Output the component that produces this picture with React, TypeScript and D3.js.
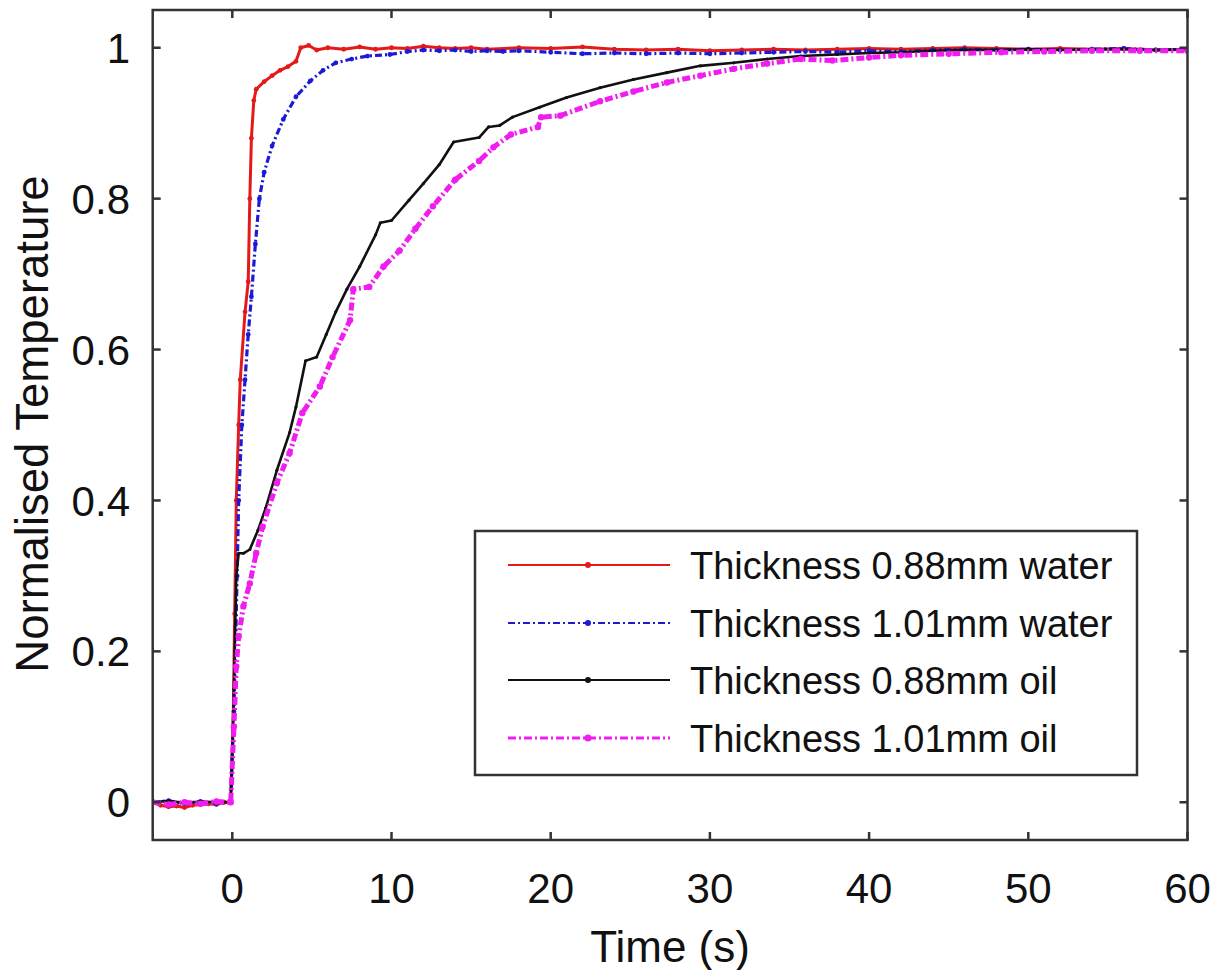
import React from "react";
import * as d3 from "d3";

type Pt = [number, number];

const xTicks = [0, 10, 20, 30, 40, 50, 60];
const yTicks = [0, 0.2, 0.4, 0.6, 0.8, 1];
const yTickLabels = ["0", "0.2", "0.4", "0.6", "0.8", "1"];

const seriesNames = [
  "Thickness 0.88mm water",
  "Thickness 1.01mm water",
  "Thickness 0.88mm oil",
  "Thickness 1.01mm oil",
];

const red088Water: Pt[] = [
  [-5, 0.0], [-4.5, -0.004], [-4, -0.006], [-3.5, -0.005], [-3, -0.007], [-2.5, -0.004],
  [-2, -0.003], [-1.5, -0.002], [-1, -0.003], [-0.5, 0.0], [-0.1, 0.0], [0.05, 0.1],
  [0.15, 0.25], [0.25, 0.4], [0.4, 0.5], [0.5, 0.56], [0.8, 0.65], [1.0, 0.69],
  [1.1, 0.8], [1.2, 0.88], [1.35, 0.93], [1.5, 0.945], [2.0, 0.955], [2.5, 0.963],
  [3.0, 0.97], [3.5, 0.975], [4.0, 0.982], [4.3, 1.0], [4.8, 1.003], [5.3, 0.997],
  [6, 1.0], [7, 0.998], [8, 1.001], [9, 0.998], [10, 1.0], [11, 0.999], [12, 1.002],
  [13, 1.0], [14, 0.999], [15, 1.0], [16, 0.998], [18, 1.0], [20, 0.999], [22, 1.001],
  [24, 0.998], [26, 0.997], [28, 0.998], [30, 0.996], [32, 0.997], [34, 0.998],
  [36, 0.997], [38, 0.998], [40, 0.999], [42, 0.998], [44, 0.999], [46, 1.0],
  [48, 0.999], [50, 0.998], [52, 0.999], [54, 0.998], [56, 0.999], [58, 0.997], [60, 0.998],
];

const blue101Water: Pt[] = [
  [-5, 0.0], [-4, 0.002], [-3, -0.002], [-2, 0.001], [-1, -0.002], [-0.1, 0.0],
  [0.1, 0.12], [0.2, 0.2], [0.3, 0.3], [0.4, 0.4], [0.6, 0.5], [0.8, 0.56], [1.0, 0.62],
  [1.2, 0.67], [1.45, 0.74], [1.7, 0.8], [2.0, 0.835], [2.5, 0.87], [3.2, 0.905],
  [4.0, 0.935], [4.9, 0.956], [5.7, 0.97], [6.5, 0.98], [7.5, 0.985], [8.5, 0.989],
  [9.9, 0.991], [11, 0.995], [12, 0.997], [13, 0.996], [14, 0.997], [15, 0.995],
  [16, 0.996], [17, 0.995], [18, 0.996], [20, 0.994], [22, 0.992], [24, 0.993],
  [26, 0.992], [28, 0.993], [30, 0.992], [32, 0.993], [34, 0.994], [36, 0.995],
  [38, 0.994], [40, 0.996], [42, 0.995], [44, 0.997], [46, 0.998], [48, 0.997],
  [50, 0.998], [52, 0.997], [54, 0.998], [56, 0.999], [58, 0.997], [60, 0.998],
];

const black088Oil: Pt[] = [
  [-5, 0.0], [-4, 0.002], [-3, -0.001], [-2, 0.001], [-1, 0.0], [-0.1, 0.0], [0.1, 0.15],
  [0.25, 0.3], [0.4, 0.33], [0.7, 0.33], [1.1, 0.335], [1.6, 0.36], [2.1, 0.39],
  [2.8, 0.44], [3.6, 0.49], [4.0, 0.524], [4.6, 0.585], [5.3, 0.59], [5.9, 0.62],
  [6.5, 0.65], [7.2, 0.68], [8.0, 0.71], [9.0, 0.752], [9.3, 0.768], [10.0, 0.771],
  [11.1, 0.798], [12.0, 0.82], [13.0, 0.845], [13.9, 0.875], [15.5, 0.881], [16.1, 0.895],
  [16.8, 0.897], [17.6, 0.908], [19.3, 0.921], [21.0, 0.934], [23.1, 0.947], [25.2, 0.958],
  [27.3, 0.967], [29.4, 0.976], [31.5, 0.98], [33.6, 0.985], [35.7, 0.989], [38, 0.991],
  [40, 0.993], [42, 0.994], [44, 0.996], [46, 0.997], [48, 0.997], [50, 0.998],
  [52, 0.997], [54, 0.998], [56, 0.998], [58, 0.997], [60, 0.998],
];

const magenta101Oil: Pt[] = [
  [-5, 0.0], [-4, -0.003], [-3, 0.0], [-2, -0.002], [-1, 0.001], [-0.1, 0.0], [0.1, 0.1],
  [0.25, 0.18], [0.4, 0.22], [0.7, 0.26], [1.1, 0.29], [1.5, 0.33], [1.9, 0.365],
  [2.8, 0.423], [3.6, 0.463], [4.4, 0.516], [5.5, 0.551], [6.3, 0.59], [7.4, 0.639],
  [7.6, 0.68], [8.6, 0.683], [9.5, 0.71], [10.5, 0.731], [11.5, 0.76], [12.6, 0.79],
  [14.0, 0.825], [15.5, 0.85], [16.4, 0.868], [17.5, 0.885], [19.2, 0.895], [19.4, 0.908],
  [20.6, 0.91], [23.1, 0.929], [25.2, 0.942], [27.3, 0.954], [29.4, 0.963], [31.5, 0.972],
  [33.6, 0.979], [35.7, 0.985], [37.7, 0.983], [40, 0.987], [42, 0.99], [45, 0.992],
  [48.3, 0.994], [51, 0.995], [54, 0.996], [57, 0.996], [60, 0.996],
];

const seriesData = [red088Water, blue101Water, black088Oil, magenta101Oil];
const seriesColors = ["#e41a1a", "#1a1ad8", "#111111", "#f01cf0"];
const seriesDash = ["none", "7,3,2,3", "none", "8,3,2,3"];
const seriesWidth = [3, 3.2, 2.6, 5];
const markerR = [2.4, 2.4, 1.6, 3.2];

const W = 1217;
const H = 970;
const left = 152.7;
const right = 1187.5;
const top = 10;
const bottom = 840;
const font = "'Liberation Sans', Arial, Helvetica, sans-serif";
const axisColor = "#333333";

export default function App() {
  const x = d3.scaleLinear().domain([-5, 60]).range([left, right]);
  const y = d3.scaleLinear().domain([-0.05, 1.05]).range([bottom, top]);
  const line = d3
    .line<Pt>()
    .x((d) => x(d[0]))
    .y((d) => y(d[1]));
  const tickLen = 8;

  const legX0 = 475;
  const legY0 = 531;
  const legW = 662;
  const legH = 244;
  const rowY = [565, 623, 680, 738];

  return (
    <svg
      width={W}
      height={H}
      style={{ position: "absolute", left: 0, top: 0, background: "#fff" }}
      fontFamily={font}
    >
      <rect x={0} y={0} width={W} height={H} fill="#fff" />
      <defs>
        <clipPath id="plotClip">
          <rect x={left} y={top} width={right - left} height={bottom - top} />
        </clipPath>
      </defs>

      <g clipPath="url(#plotClip)">
        {seriesData.map((data, i) => (
          <g key={i}>
            <path
              d={line(data) || ""}
              fill="none"
              stroke={seriesColors[i]}
              strokeWidth={seriesWidth[i]}
              strokeDasharray={seriesDash[i]}
              strokeLinejoin="round"
            />
            {data.map((d, j) => (
              <circle key={j} cx={x(d[0])} cy={y(d[1])} r={markerR[i]} fill={seriesColors[i]} />
            ))}
          </g>
        ))}
      </g>

      {/* axes box */}
      <rect
        x={left}
        y={top}
        width={right - left}
        height={bottom - top}
        fill="none"
        stroke={axisColor}
        strokeWidth={2.5}
      />
      {xTicks.map((t) => (
        <g key={"xt" + t}>
          <line x1={x(t)} x2={x(t)} y1={bottom} y2={bottom - tickLen} stroke={axisColor} strokeWidth={2.5} />
          <line x1={x(t)} x2={x(t)} y1={top} y2={top + tickLen} stroke={axisColor} strokeWidth={2.5} />
          <text x={x(t)} y={903} textAnchor="middle" fontSize={42} fill="#111">
            {t}
          </text>
        </g>
      ))}
      {yTicks.map((t, i) => (
        <g key={"yt" + t}>
          <line x1={left} x2={left + tickLen} y1={y(t)} y2={y(t)} stroke={axisColor} strokeWidth={2.5} />
          <line x1={right} x2={right - tickLen} y1={y(t)} y2={y(t)} stroke={axisColor} strokeWidth={2.5} />
          <text x={130} y={y(t)} dy="0.36em" textAnchor="end" fontSize={42} fill="#111">
            {yTickLabels[i]}
          </text>
        </g>
      ))}

      <text x={(left + right) / 2} y={962} textAnchor="middle" fontSize={44} fill="#111">
        Time (s)
      </text>
      <text
        transform={`translate(48, 424) rotate(-90)`}
        textAnchor="middle"
        fontSize={45.5}
        fill="#111"
      >
        Normalised Temperature
      </text>

      {/* legend */}
      <rect x={legX0} y={legY0} width={legW} height={legH} fill="#fff" stroke={axisColor} strokeWidth={2.5} />
      {seriesNames.map((name, i) => (
        <g key={"lg" + i}>
          <line
            x1={508}
            x2={670}
            y1={rowY[i]}
            y2={rowY[i]}
            stroke={seriesColors[i]}
            strokeWidth={i === 3 ? 3 : 2}
            strokeDasharray={seriesDash[i]}
          />
          <circle cx={588} cy={rowY[i]} r={i === 3 ? 3.5 : 3} fill={seriesColors[i]} />
          <text x={690} y={rowY[i]} dy="0.36em" fontSize={38} fill="#111">
            {name}
          </text>
        </g>
      ))}
    </svg>
  );
}
